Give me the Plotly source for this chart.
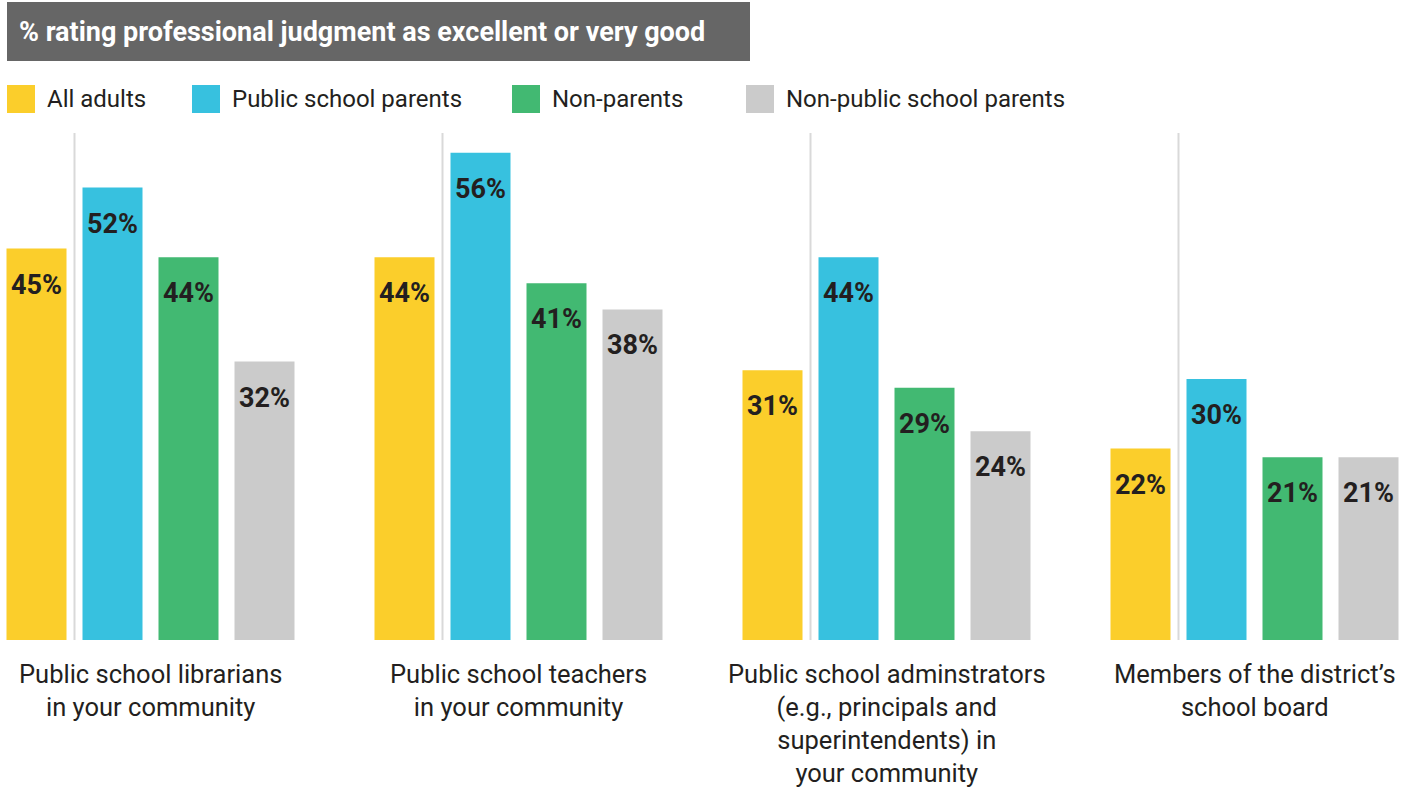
import plotly.graph_objects as go

# Survey data: share rating professional judgment as excellent or very good
categories = [
    "Public school librarians<br>in your community",
    "Public school teachers<br>in your community",
    "Public school adminstrators<br>(e.g., principals and<br>superintendents) in<br>your community",
    "Members of the district\u2019s<br>school board",
]
series_names = ["All adults", "Public school parents", "Non-parents", "Non-public school parents"]
all_adults = [45, 44, 31, 22]
public_school_parents = [52, 56, 44, 30]
non_parents = [44, 41, 29, 21]
non_public_parents = [32, 38, 24, 21]
series_values = [all_adults, public_school_parents, non_parents, non_public_parents]

colors = ["#FBCE2B", "#37C1DF", "#42B972", "#CBCBCB"]
TEXT = "#231F20"
FONT = "Roboto"

W, H = 1416, 788
M_T, M_B = 118, 148
BASE = H - M_B            # pixel row of the bar baseline
PLOT_H = H - M_T - M_B

# horizontal geometry (pixels)
GROUP_PITCH = 368
GROUP0_CENTER = 150.5
SLOT = 76
BAR_W = 60
bargap = (GROUP_PITCH - 4 * SLOT) / GROUP_PITCH
bargroupgap = (SLOT - BAR_W) / SLOT
slot_units = SLOT / GROUP_PITCH
x_range = [-GROUP0_CENTER / GROUP_PITCH, (W - GROUP0_CENTER) / GROUP_PITCH]


def px(x):
    return x / W


def py(y):
    return (BASE - y) / PLOT_H


fig = go.Figure()
xs = list(range(len(categories)))
for name, vals, col in zip(series_names, series_values, colors):
    fig.add_trace(go.Bar(
        x=xs, y=vals, name=name, marker=dict(color=col, line=dict(width=0)),
        showlegend=False, hoverinfo="skip",
    ))

annotations = []
shapes = []

# value labels inside the top of each bar
for k, vals in enumerate(series_values):
    off = (k - 1.5) * slot_units
    for i, v in enumerate(vals):
        annotations.append(dict(
            x=i + off, y=v, xref="x", yref="y", text=f"<b>{v}%</b>",
            showarrow=False, yshift=-36, yanchor="middle",
            font=dict(family=FONT, size=27, color=TEXT),
        ))

# thin separators between the first and second bar of each group
for i in xs:
    shapes.append(dict(
        type="line", xref="x", yref="paper",
        x0=i - slot_units, x1=i - slot_units, y0=0, y1=py(133),
        line=dict(color="#D9D9D9", width=2), layer="below",
    ))

# category labels under each group
for i, cat in enumerate(categories):
    annotations.append(dict(
        x=i, y=py(657), xref="x", yref="paper", text=cat,
        showarrow=False, yanchor="top", xanchor="center", align="center",
        font=dict(family=FONT, size=25.5, color=TEXT),
    ))

# title banner
shapes.append(dict(
    type="rect", xref="paper", yref="paper",
    x0=px(7), x1=px(750), y0=py(61), y1=py(2),
    fillcolor="#666666", line=dict(width=0),
))
annotations.append(dict(
    x=px(17), y=py(32), xref="paper", yref="paper",
    text="<b>% rating professional judgment as excellent or very good</b>",
    showarrow=False, xanchor="left", yanchor="middle",
    font=dict(family=FONT, size=27, color="white"),
))

# legend row
legend_x = [7, 192, 512, 746]
for lx, name, col in zip(legend_x, series_names, colors):
    shapes.append(dict(
        type="rect", xref="paper", yref="paper",
        x0=px(lx), x1=px(lx + 28), y0=py(113), y1=py(85),
        fillcolor=col, line=dict(width=0),
    ))
    annotations.append(dict(
        x=px(lx + 38), y=py(99), xref="paper", yref="paper", text=name,
        showarrow=False, xanchor="left", yanchor="middle",
        font=dict(family=FONT, size=24, color=TEXT),
    ))

fig.update_layout(
    width=W, height=H,
    margin=dict(l=0, r=0, t=M_T, b=M_B, pad=0),
    paper_bgcolor="white", plot_bgcolor="white",
    barmode="group", bargap=bargap, bargroupgap=bargroupgap,
    xaxis=dict(range=x_range, showgrid=False, zeroline=False,
               showticklabels=False, showline=False, fixedrange=True),
    yaxis=dict(range=[0, 60], showgrid=False, zeroline=False,
               showticklabels=False, showline=False, fixedrange=True),
    shapes=shapes, annotations=annotations,
    font=dict(family=FONT, color=TEXT),
)

fig.write_html("out.html", config={"displayModeBar": False})
